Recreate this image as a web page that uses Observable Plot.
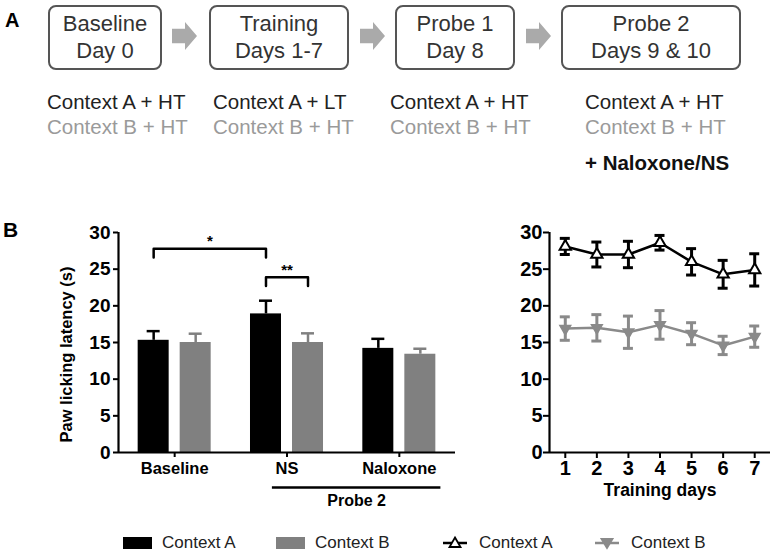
<!DOCTYPE html>
<html>
<head>
<meta charset="utf-8">
<script src="https://cdn.jsdelivr.net/npm/d3@7"></script>
<script src="https://cdn.jsdelivr.net/npm/@observablehq/plot@0.6"></script>
<style>
  body { margin: 0; background: #fff; font-family: "Liberation Sans", Arial, sans-serif; }
  #root { position: relative; width: 774px; height: 555px; overflow: hidden; background: #fff; }
  .abs { position: absolute; }
  .box { position: absolute; top: 5px; height: 65px; border: 2px solid #555; border-radius: 8px;
         box-sizing: border-box; display: flex; align-items: center; justify-content: center;
         text-align: center; font-size: 22px; line-height: 26.6px; color: #333; }
  .arrow { position: absolute; top: 22px; width: 25px; height: 28px; background: #aaa;
           clip-path: polygon(0 24%, 52% 24%, 52% 0, 100% 50%, 52% 100%, 52% 76%, 0 76%); }
  .cond { position: absolute; top: 89px; font-size: 20.5px; line-height: 25px; white-space: nowrap; }
  .ca { color: #222; }
  .cb { color: #9a9a9a; }
  .panel { position: absolute; font-weight: bold; line-height: 1; color: #000; }
  .leg { position: absolute; top: 533px; height: 20px; display: flex; align-items: center;
         font-size: 17px; color: #222; white-space: nowrap; }
  .sw { display: inline-block; width: 29px; height: 12px; margin-right: 10px; }
</style>
</head>
<body>
<div id="root">
  <div class="panel" style="left:5px;top:10px;font-size:20px;">A</div>
  <div class="panel" style="left:3px;top:219px;font-size:21px;">B</div>
  <div id="flow"></div>
  <div id="bars" class="abs" style="left:0;top:215px;"></div>
  <div id="lines" class="abs" style="left:480px;top:215px;"></div>
  <div id="legend"></div>
</div>
<script>
// ---------- Panel A (protocol) ----------
const steps = ["Baseline", "Training", "Probe 1", "Probe 2"];
const stepDays = ["Day 0", "Days 1-7", "Day 8", "Days 9 & 10"];
const condA = ["Context A + HT", "Context A + LT", "Context A + HT", "Context A + HT"];
const condB = ["Context B + HT", "Context B + HT", "Context B + HT", "Context B + HT"];
const drugNote = "+ Naloxone/NS";

// ---------- Panel B, bar chart ----------
const groups = ["Baseline", "NS", "Naloxone"];
const contextKeys = ["A", "B"];
const contextNames = ["Context A", "Context B"];
const barMeanA = [15.3, 18.9, 14.2];
const barErrA  = [1.25, 1.8, 1.3];
const barMeanB = [15.0, 15.0, 13.4];
const barErrB  = [1.2, 1.25, 0.75];
const yTicks = [0, 5, 10, 15, 20, 25, 30];
const sigLabels = ["*", "**"];
const sigFromGroup = ["Baseline", "NS"];
const sigFromCtx = ["A", "A"];
const sigToGroup = ["NS", "NS"];
const sigToCtx = ["A", "B"];
const sigHeight = [27.8, 23.9];
const probeLabel = "Probe 2";
const probeGroups = ["NS", "Naloxone"];

// ---------- Panel B, line chart ----------
const days = [1, 2, 3, 4, 5, 6, 7];
const lineMeanA = [28.1, 27.0, 27.0, 28.6, 26.0, 24.3, 24.9];
const lineErrA  = [1.1, 1.7, 1.8, 1.0, 1.8, 1.9, 2.2];
const lineMeanB = [16.9, 17.0, 16.4, 17.4, 16.2, 14.6, 15.8];
const lineErrB  = [1.6, 1.8, 2.2, 1.95, 1.5, 1.25, 1.45];
const xLabelLine = "Training days";
const yLabelBar = "Paw licking latency (s)";

// ===== build panel A =====
const flow = document.getElementById("flow");
const boxX = [[48, 162], [209, 349], [395, 515], [561, 741]];
const arrowX = [172, 360, 526];
const condX = [47, 213, 390, 585];
steps.forEach((s, i) => {
  const b = document.createElement("div");
  b.className = "box";
  b.style.left = boxX[i][0] + "px";
  b.style.width = (boxX[i][1] - boxX[i][0]) + "px";
  b.innerHTML = s + "<br>" + stepDays[i];
  flow.appendChild(b);
  const c = document.createElement("div");
  c.className = "cond";
  c.style.left = condX[i] + "px";
  c.innerHTML = `<div class="ca">${condA[i]}</div><div class="cb">${condB[i]}</div>`;
  flow.appendChild(c);
});
arrowX.forEach(x => {
  const a = document.createElement("div");
  a.className = "arrow";
  a.style.left = x + "px";
  flow.appendChild(a);
});
{
  const n = document.createElement("div");
  n.className = "cond";
  n.style.left = condX[3] + "px";
  n.style.top = "150px";
  n.style.fontWeight = "bold";
  n.style.color = "#111";
  n.textContent = drugNote;
  flow.appendChild(n);
}

// ===== bar chart =====
const FONT = "'Liberation Sans', Arial, sans-serif";
const OFF = 0.187, HW = 0.138;
const gi = g => groups.indexOf(g);
const cx = (g, c) => gi(g) + 0.5 + (c === "A" ? -OFF : OFF);
const barRows = groups.flatMap((g, i) => [
  {g, ctx: "A", mean: barMeanA[i], err: barErrA[i]},
  {g, ctx: "B", mean: barMeanB[i], err: barErrB[i]}
]);
const brackets = sigLabels.map((lab, i) => ({
  lab, xa: cx(sigFromGroup[i], sigFromCtx[i]), xb: cx(sigToGroup[i], sigToCtx[i]), y: sigHeight[i]
}));
const LEG = 1.2;
const bracketPts = brackets.flatMap((b, k) => [
  {k, x: b.xa, y: b.y - LEG}, {k, x: b.xa, y: b.y}, {k, x: b.xb, y: b.y}, {k, x: b.xb, y: b.y - LEG}
]);
const pStart = gi(probeGroups[0]) + 0.5 - 0.13;
const pEnd = gi(probeGroups[1]) + 0.5 + 0.37;

const barPlot = Plot.plot({
  width: 470, height: 300,
  marginLeft: 118, marginRight: 15, marginTop: 17, marginBottom: 63,
  x: {domain: [0, groups.length]},
  y: {domain: [0, 30]},
  color: {domain: contextKeys, range: ["#000000", "#808080"]},
  style: {fontFamily: FONT, color: "#000", background: "transparent", overflow: "visible"},
  marks: [
    Plot.rectY(barRows, {x1: d => cx(d.g, d.ctx) - HW, x2: d => cx(d.g, d.ctx) + HW, y1: 0, y2: "mean", fill: "ctx"}),
    Plot.ruleX(barRows, {x: d => cx(d.g, d.ctx), y1: "mean", y2: d => d.mean + d.err, stroke: "ctx", strokeWidth: 2.5}),
    Plot.ruleY(barRows, {y: d => d.mean + d.err, x1: d => cx(d.g, d.ctx), x2: d => cx(d.g, d.ctx), insetLeft: -6.5, insetRight: -6.5, stroke: "ctx", strokeWidth: 2.5}),
    Plot.ruleY([0], {strokeWidth: 2.2}),
    Plot.ruleX([0], {strokeWidth: 2.2}),
    Plot.axisY({ticks: yTicks, tickSize: 5, tickPadding: 3, fontSize: 19, fontWeight: "bold", strokeWidth: 2, label: null}),
    Plot.axisX({ticks: groups.map((g, i) => i + 0.5), tickFormat: d => groups[Math.floor(d)], tickSize: 5, tickPadding: 5, fontSize: 16.5, fontWeight: "bold", strokeWidth: 2, label: null}),
    Plot.text([yLabelBar], {frameAnchor: "left", textAnchor: "middle", lineAnchor: "middle", rotate: -90, dx: -52, dy: 12, fontSize: 16.5, fontWeight: "bold"}),
    Plot.line(bracketPts, {x: "x", y: "y", z: "k", stroke: "#000", strokeWidth: 2.5}),
    Plot.text(brackets, {x: d => (d.xa + d.xb) / 2, y: "y", text: "lab", dy: -7, fontSize: 15, fontWeight: "bold"}),
    Plot.ruleY([0], {x1: pStart, x2: pEnd, dy: 35, strokeWidth: 2.5}),
    Plot.text([probeLabel], {x: (pStart + pEnd) / 2, y: 0, dy: 48, fontSize: 16, fontWeight: "bold"})
  ]
});
document.getElementById("bars").appendChild(barPlot);

// ===== line chart =====
const rowsA = days.map((d, i) => ({day: d, mean: lineMeanA[i], err: lineErrA[i]}));
const rowsB = days.map((d, i) => ({day: d, mean: lineMeanB[i], err: lineErrB[i]}));
const GRAY = "#8a8a8a";
const errMarks = (rows, col) => [
  Plot.ruleX(rows, {x: "day", y1: d => d.mean - d.err, y2: d => d.mean + d.err, stroke: col, strokeWidth: 3}),
  Plot.ruleY(rows, {y: d => d.mean + d.err, x1: "day", x2: "day", insetLeft: -5, insetRight: -5, stroke: col, strokeWidth: 3}),
  Plot.ruleY(rows, {y: d => d.mean - d.err, x1: "day", x2: "day", insetLeft: -5, insetRight: -5, stroke: col, strokeWidth: 3})
];
const linePlot = Plot.plot({
  width: 294, height: 300,
  marginLeft: 69, marginRight: 4, marginTop: 17, marginBottom: 63,
  x: {domain: [0.5, 7.5]},
  y: {domain: [0, 30]},
  style: {fontFamily: FONT, color: "#000", background: "transparent", overflow: "visible"},
  marks: [
    Plot.ruleY([0], {strokeWidth: 2.2}),
    Plot.ruleX([0.5], {strokeWidth: 2.2}),
    Plot.axisY({ticks: yTicks, tickSize: 6, tickPadding: 1, fontSize: 20, fontWeight: "bold", strokeWidth: 2, label: null}),
    Plot.axisX({ticks: days, tickFormat: d => String(d), tickSize: 6, tickPadding: 2, fontSize: 20, fontWeight: "bold", strokeWidth: 2, label: null}),
    Plot.text([xLabelLine], {frameAnchor: "bottom", dy: 43, fontSize: 17.5, fontWeight: "bold"}),
    Plot.line(rowsB, {x: "day", y: "mean", stroke: GRAY, strokeWidth: 2.5}),
    ...errMarks(rowsB, GRAY),
    Plot.dot(rowsB, {x: "day", y: "mean", symbol: "triangle", rotate: 180, r: 4, fill: GRAY, stroke: GRAY}),
    Plot.line(rowsA, {x: "day", y: "mean", stroke: "#000", strokeWidth: 2.5}),
    ...errMarks(rowsA, "#000"),
    Plot.dot(rowsA, {x: "day", y: "mean", symbol: "triangle", r: 4.2, fill: "#fff", stroke: "#000", strokeWidth: 2})
  ]
});
document.getElementById("lines").appendChild(linePlot);

// ===== legend =====
const legend = document.getElementById("legend");
const legBar = [[123, "#000"], [276, "#808080"]];
legBar.forEach(([x, col], i) => {
  const e = document.createElement("div");
  e.className = "leg";
  e.style.left = x + "px";
  e.innerHTML = `<span class="sw" style="background:${col}"></span>${contextNames[i]}`;
  legend.appendChild(e);
});
const legLine = [[443, "#000", "#fff", "M6.5,-5.5 L12,4 L1,4 Z"], [595, GRAY, GRAY, "M6.5,5 L1,-4 L12,-4 Z"]];
legLine.forEach(([x, col, fill, path], i) => {
  const e = document.createElement("div");
  e.className = "leg";
  e.style.left = x + "px";
  e.innerHTML = `<svg width="24" height="16" viewBox="0 -8 24 16" style="margin-right:12px;overflow:visible">
    <line x1="0" x2="24" y1="0" y2="0" stroke="${col}" stroke-width="2.5"/>
    <path transform="translate(5.5,0)" d="${path}" fill="${fill}" stroke="${col}" stroke-width="1.8"/></svg>${contextNames[i]}`;
  legend.appendChild(e);
});
</script>
</body>
</html>
